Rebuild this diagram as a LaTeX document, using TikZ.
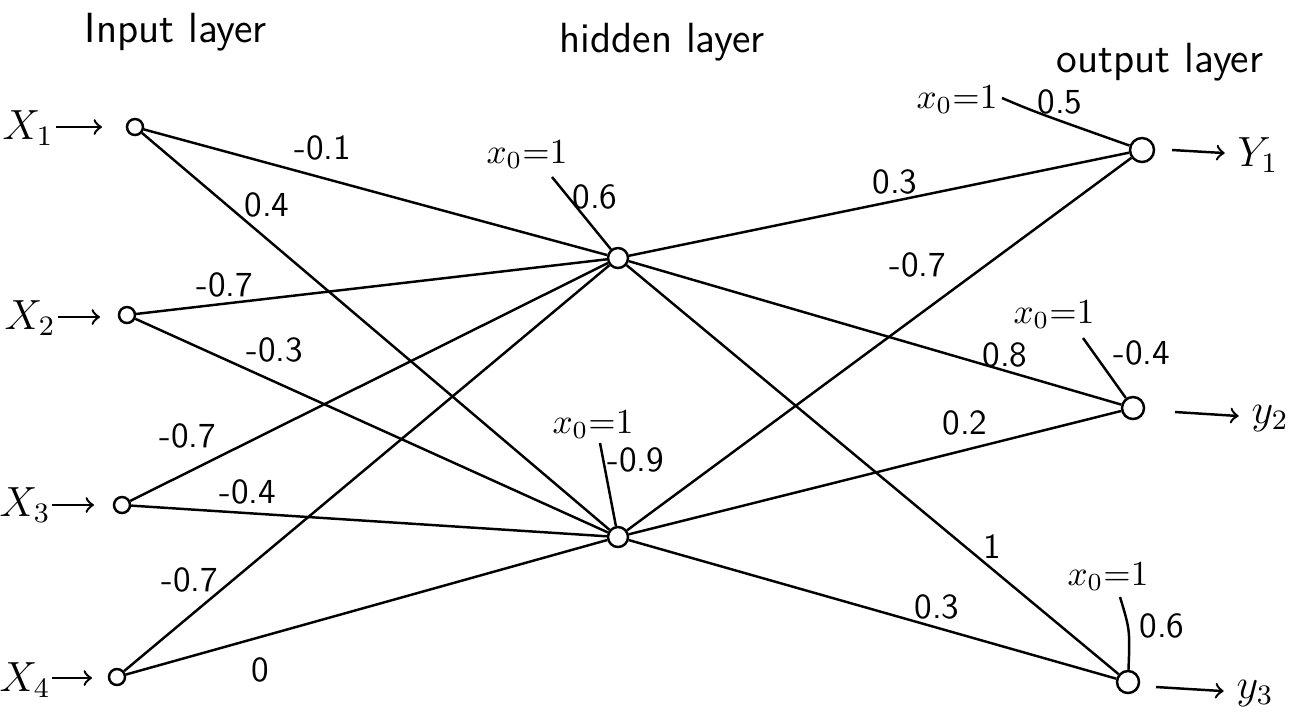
\documentclass[tikz,border=0pt]{standalone}
\usepackage{tikz}

\tikzset{
  unit/.style={draw, circle, inner sep=0pt, minimum size=0.16cm},
  hid/.style={draw, circle, inner sep=0pt, minimum size=0.2cm},
  wt/.style={font=\sffamily\normalsize},
  ttl/.style={font=\sffamily\large},
  io/.style={font=\large},
  bias/.style={font=\normalsize},
}

\begin{document}
\begin{tikzpicture}[x=0.01cm, y=-0.01cm, line width=0.7pt]
    \useasboundingbox (0, 0) rectangle (1307, 711);
    % titles
    \node[ttl] (tin) at (176, 32) {Input layer};
    \node[ttl] (thid) at (662, 42) {hidden layer};
    \node[ttl] (tout) at (1160, 62) {output layer};
    % input layer
    \node[unit] (x1) at (135, 127) {};
    \node[unit] (x2) at (127, 315) {};
    \node[unit] (x3) at (122, 505) {};
    \node[unit] (x4) at (117, 677) {};
    \node[io] (lx1) at (28, 128) {$X_1$};
    \node[io] (lx2) at (30, 318) {$X_2$};
    \node[io] (lx3) at (25, 505) {$X_3$};
    \node[io] (lx4) at (25, 680) {$X_4$};
    \coordinate (s1) at (56, 127);  \coordinate (e1) at (102, 127);
    \coordinate (s2) at (58, 317);  \coordinate (e2) at (100, 317);
    \coordinate (s3) at (52, 505);  \coordinate (e3) at (94, 505);
    \coordinate (s4) at (52, 678);  \coordinate (e4) at (92, 678);
    \draw [->] (s1) -- (e1);
    \draw [->] (s2) -- (e2);
    \draw [->] (s3) -- (e3);
    \draw [->] (s4) -- (e4);
    % hidden layer
    \node[hid] (h1) at (618, 258) {};
    \node[hid] (h2) at (618, 537) {};
    % output layer
    \node[hid, minimum size=0.24cm] (y1) at (1142, 150) {};
    \node[hid, minimum size=0.22cm] (y2) at (1133, 408) {};
    \node[hid, minimum size=0.22cm] (y3) at (1128, 682) {};
    \node[io] (ly1) at (1258, 155) {$Y_1$};
    \node[io] (ly2) at (1270, 418) {$y_2$};
    \node[io] (ly3) at (1255, 693) {$y_3$};
    \draw [->] (y1) ++(30, 0) coordinate (a1) -- (ly1);
    \draw [->] (y2) ++(42, 4) coordinate (a2) -- (ly2);
    \draw [->] (y3) ++(28, 5) coordinate (a3) -- (ly3);
    % input to hidden
    \draw (x1) -- (h1); \node[wt] (w11) at (323, 148) {-0.1};
    \draw (x1) -- (h2); \node[wt] (w12) at (267, 205) {0.4};
    \draw (x2) -- (h1); \node[wt] (w21) at (225, 285) {-0.7};
    \draw (x2) -- (h2); \node[wt] (w22) at (275, 350) {-0.3};
    \draw (x3) -- (h1); \node[wt] (w31) at (188, 436) {-0.7};
    \draw (x3) -- (h2); \node[wt] (w32) at (248, 492) {-0.4};
    \draw (x4) -- (h1); \node[wt] (w41) at (190, 580) {-0.7};
    \draw (x4) -- (h2); \node[wt] (w42) at (260, 670) {0};
    % hidden to output
    \draw (h1) -- (y1); \node[wt] (v11) at (895, 182) {0.3};
    \draw (h2) -- (y1); \node[wt] (v21) at (918, 265) {-0.7};
    \draw (h1) -- (y2); \node[wt] (v12) at (1005, 355) {0.8};
    \draw (h2) -- (y2); \node[wt] (v22) at (965, 423) {0.2};
    \draw (h1) -- (y3); \node[wt] (v13) at (992, 547) {1};
    \draw (h2) -- (y3); \node[wt] (v23) at (937, 607) {0.3};
    % bias inputs
    \node[bias] (b1) at (527, 155) {$x_0{=}1$};
    \coordinate (c1) at (552, 177);
    \draw (c1) -- (h1); \node[wt] (bw1) at (595, 197) {0.6};
    \node[bias] (b2) at (593, 425) {$x_0{=}1$};
    \coordinate (c2) at (600, 443);
    \draw (c2) -- (h2); \node[wt] (bw2) at (636, 460) {-0.9};
    \node[bias] (b3) at (957, 100) {$x_0{=}1$};
    \coordinate (c3) at (1002, 98);
    \draw (c3) .. controls (1035, 112) .. (y1); \node[wt] (bw3) at (1060, 102) {0.5};
    \node[bias] (b4) at (1054, 315) {$x_0{=}1$};
    \coordinate (c4) at (1083, 338);
    \draw (c4) -- (y2); \node[wt] (bw4) at (1142, 353) {-0.4};
    \node[bias] (b5) at (1108, 577) {$x_0{=}1$};
    \coordinate (c5) at (1120, 597);
    \draw (c5) .. controls (1130, 630) .. (y3); \node[wt] (bw5) at (1162, 626) {0.6};
  \end{tikzpicture}
\end{document}
